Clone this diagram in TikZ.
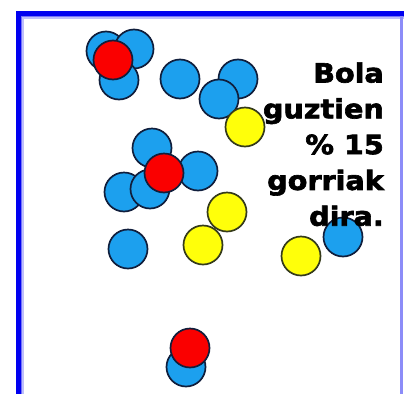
\documentclass[tikz,border=0pt]{standalone}
\usepackage{fontspec}
\newfontfamily\capfont{DejaVu Sans Bold}[FakeStretch=1.08,FakeBold=2.4]
\definecolor{ballblue}{RGB}{28,160,238}
\definecolor{ballred}{RGB}{250,0,0}
\definecolor{ballyellow}{RGB}{255,255,10}
\definecolor{rim}{RGB}{16,30,60}
\definecolor{frameblue}{RGB}{0,0,240}
\tikzset{
  ball/.style={circle, draw=rim, line width=1.7pt, minimum size=39pt, inner sep=0pt},
  bluebal/.style={ball, fill=ballblue},
  redbal/.style={ball, fill=ballred},
  yellowbal/.style={ball, fill=ballyellow, draw=rim!70!ballyellow!60!black},
}
\begin{document}
\begin{tikzpicture}[x=1pt,y=-1pt]
  \useasboundingbox (0,0) rectangle (404,394);
  \fill[white] (0,0) rectangle (404,394);
  % frame: heavy top and left bars, thin right edge
  \fill[frameblue!25] (16,11) rectangle (404,18.5);
  \fill[frameblue!25] (16,11) rectangle (23.5,394);
  \fill[frameblue!55] (16,11) rectangle (404,17.3);
  \fill[frameblue!55] (16,11) rectangle (22.3,394);
  \fill[frameblue] (16,11) rectangle (404,16.2);
  \fill[frameblue] (16,11) rectangle (21.2,394);
  \fill[frameblue!45] (400,16) rectangle (402.5,394);

  % upper-left cluster
  \node[bluebal] (b1) at (106,51) {};
  \node[bluebal] (b2) at (134,49) {};
  \node[bluebal] (b3) at (119,80) {};
  \node[redbal]  (r1) at (113,60) {};
  % upper row
  \node[bluebal] (b4) at (180,79) {};
  \node[bluebal] (b5) at (238,79) {};
  \node[bluebal] (b6) at (219,99) {};
  \node[yellowbal] (y1) at (245,127) {};
  % middle cluster
  \node[bluebal] (b7) at (152,148) {};
  \node[bluebal] (b8) at (198,171) {};
  \node[bluebal] (b9) at (124,192) {};
  \node[bluebal] (b10) at (150,189) {};
  \node[redbal]  (r2) at (164,173) {};
  % lower scattered balls
  \node[yellowbal] (y2) at (227,212) {};
  \node[yellowbal] (y3) at (203,245) {};
  \node[bluebal] (b11) at (128,249) {};
  \node[yellowbal] (y4) at (301,256) {};
  \node[bluebal] (b12) at (343,237) {};
  % bottom pair
  \node[bluebal] (b13) at (186,367) {};
  \node[redbal]  (r3) at (190,348) {};

  % caption
  \node[anchor=north east, inner sep=0pt, align=right,
        font=\capfont\fontsize{26.5}{35.8}\selectfont] (caption) at (384,62.2)
        {Bola\\guztien\\\% 15\\gorriak\\dira.};
\end{tikzpicture}
\end{document}
